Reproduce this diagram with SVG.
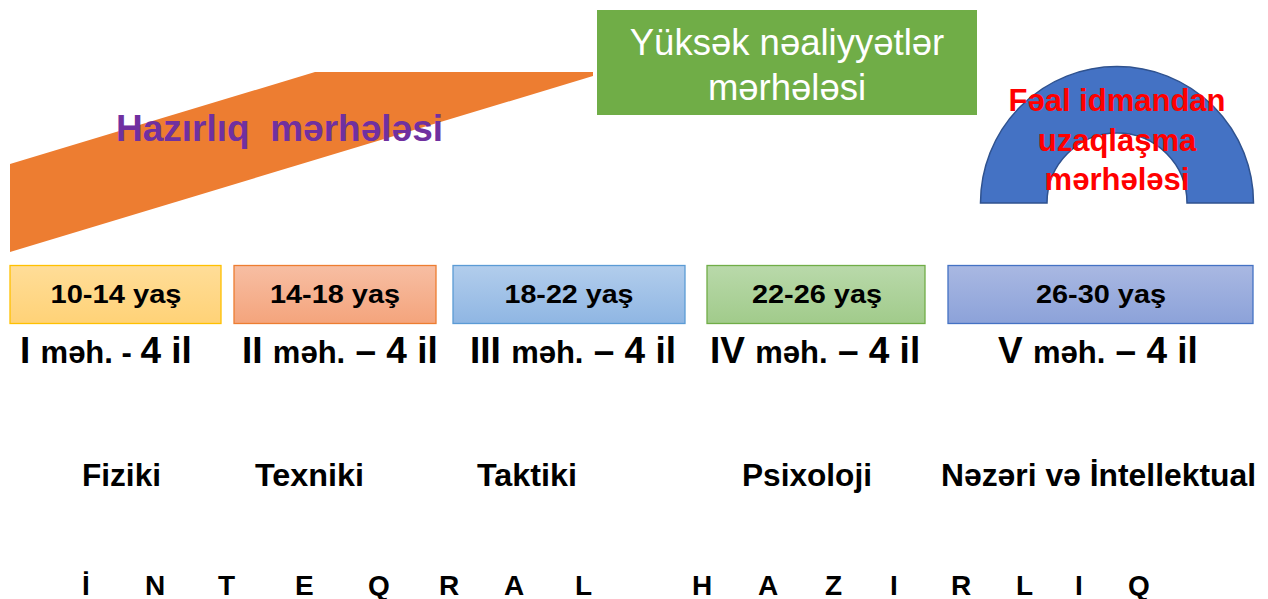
<svg xmlns="http://www.w3.org/2000/svg" width="1268" height="599" viewBox="0 0 1268 599">
  <defs>
    <linearGradient id="gYellow" x1="0" y1="0" x2="0" y2="1">
      <stop offset="0" stop-color="#FFDD98"/>
      <stop offset="1" stop-color="#FFD277"/>
    </linearGradient>
    <linearGradient id="gSalmon" x1="0" y1="0" x2="0" y2="1">
      <stop offset="0" stop-color="#F7BEA3"/>
      <stop offset="1" stop-color="#F4A47C"/>
    </linearGradient>
    <linearGradient id="gBlue" x1="0" y1="0" x2="0" y2="1">
      <stop offset="0" stop-color="#B2CDEC"/>
      <stop offset="1" stop-color="#8FB6E3"/>
    </linearGradient>
    <linearGradient id="gGreen" x1="0" y1="0" x2="0" y2="1">
      <stop offset="0" stop-color="#B9D9AA"/>
      <stop offset="1" stop-color="#A1CB8B"/>
    </linearGradient>
    <linearGradient id="gIndigo" x1="0" y1="0" x2="0" y2="1">
      <stop offset="0" stop-color="#A9B8E2"/>
      <stop offset="1" stop-color="#8CA2D9"/>
    </linearGradient>
  </defs>
  <style>
    .b { font-family: "Liberation Sans", Arial, sans-serif; font-weight: bold; fill: #000; }
    .n { font-family: "Liberation Sans Narrow", "Liberation Sans", Arial, sans-serif; font-weight: bold; fill: #000; }
    .age { font-size: 26px; text-anchor: middle; }
    .stage { font-size: 37px; }
    .small { font-size: 31px; }
    .kind { font-size: 32px; }
    .letter { font-size: 28px; }
    .box { stroke-width: 1.3; }
    .red { fill: #FF0000; }
  </style>

  <!-- preparation stage band -->
  <g id="hazirliq">
    <polygon points="10,164 315,72 593,72 593,76 10,252" fill="#ED7D31"/>
    <text x="116" y="141" class="b" font-size="37" style="fill:#7030A0" textLength="327" lengthAdjust="spacingAndGlyphs" xml:space="preserve">Hazırlıq  mərhələsi</text>
  </g>

  <!-- peak achievements stage -->
  <g id="yuksek">
    <rect x="597" y="10" width="380" height="105" fill="#70AD47"/>
    <text x="787" y="55" font-family="Liberation Sans, Arial, sans-serif" font-size="36.5" fill="#FFFFFF" text-anchor="middle">Yüksək nəaliyyətlər</text>
    <text x="787" y="100" font-family="Liberation Sans, Arial, sans-serif" font-size="36.5" fill="#FFFFFF" text-anchor="middle">mərhələsi</text>
  </g>

  <!-- retirement stage arch -->
  <g id="uzaqlasma">
    <path d="M980.5,203 A136.5,136.5 0 0 1 1253.5,203 L1187,203 A70,70 0 0 0 1047,203 Z" fill="#4472C4" stroke="#2F528F" stroke-width="1.5"/>
    <g font-size="31" text-anchor="middle">
      <text class="b red" x="1117" y="111">Fəal idmandan</text>
      <text class="b red" x="1117" y="151">uzaqlaşma</text>
      <text class="b red" x="1117" y="190">mərhələsi</text>
    </g>
  </g>

  <!-- age boxes -->
  <g id="age1">
    <rect class="box" x="10" y="265.5" width="211" height="58" fill="url(#gYellow)" stroke="#FFC000"/>
    <text class="n age" x="116" y="303" textLength="131" lengthAdjust="spacingAndGlyphs">10-14 yaş</text>
  </g>
  <g id="age2">
    <rect class="box" x="234" y="265.5" width="202" height="58" fill="url(#gSalmon)" stroke="#ED7D31"/>
    <text class="n age" x="335" y="303" textLength="130" lengthAdjust="spacingAndGlyphs">14-18 yaş</text>
  </g>
  <g id="age3">
    <rect class="box" x="453" y="265.5" width="232" height="58" fill="url(#gBlue)" stroke="#5B9BD5"/>
    <text class="n age" x="569" y="303" textLength="129" lengthAdjust="spacingAndGlyphs">18-22 yaş</text>
  </g>
  <g id="age4">
    <rect class="box" x="707" y="265.5" width="218" height="58" fill="url(#gGreen)" stroke="#70AD47"/>
    <text class="n age" x="817" y="303" textLength="130" lengthAdjust="spacingAndGlyphs">22-26 yaş</text>
  </g>
  <g id="age5">
    <rect class="box" x="948" y="265.5" width="305" height="58" fill="url(#gIndigo)" stroke="#4472C4"/>
    <text class="n age" x="1101" y="303" textLength="130" lengthAdjust="spacingAndGlyphs">26-30 yaş</text>
  </g>

  <!-- stage durations -->
  <g id="durations">
    <text x="20" y="363" class="b stage" xml:space="preserve">I <tspan class="small">məh.</tspan><tspan class="small"> - </tspan>4 il</text>
    <text x="242" y="363" class="b stage" xml:space="preserve">II <tspan class="small">məh.</tspan> – 4 il</text>
    <text x="470" y="363" class="b stage" xml:space="preserve">III <tspan class="small">məh.</tspan> – 4 il</text>
    <text x="710" y="363" class="b stage" xml:space="preserve">IV <tspan class="small">məh.</tspan> – 4 il</text>
    <text x="998" y="363" class="b stage" xml:space="preserve">V <tspan class="small">məh.</tspan> – 4 il</text>
  </g>

  <!-- training kinds -->
  <g id="kinds">
    <text class="n kind" x="82" y="486" textLength="79" lengthAdjust="spacingAndGlyphs">Fiziki</text>
    <text class="n kind" x="255" y="486" textLength="109" lengthAdjust="spacingAndGlyphs">Texniki</text>
    <text class="n kind" x="477" y="486" textLength="100" lengthAdjust="spacingAndGlyphs">Taktiki</text>
    <text class="n kind" x="742" y="486" textLength="130" lengthAdjust="spacingAndGlyphs">Psixoloji</text>
    <text class="n kind" x="941" y="486" textLength="315" lengthAdjust="spacingAndGlyphs">Nəzəri və İntellektual</text>
  </g>

  <!-- spaced heading -->
  <g id="integral">
    <text class="b letter" x="82" y="595">İ</text>
    <text class="b letter" x="145" y="595">N</text>
    <text class="b letter" x="218" y="595">T</text>
    <text class="b letter" x="295" y="595">E</text>
    <text class="b letter" x="368" y="595">Q</text>
    <text class="b letter" x="439" y="595">R</text>
    <text class="b letter" x="504" y="595">A</text>
    <text class="b letter" x="575" y="595">L</text>
    <text class="b letter" x="692" y="595">H</text>
    <text class="b letter" x="758" y="595">A</text>
    <text class="b letter" x="825" y="595">Z</text>
    <text class="b letter" x="890" y="595">I</text>
    <text class="b letter" x="951" y="595">R</text>
    <text class="b letter" x="1016" y="595">L</text>
    <text class="b letter" x="1075" y="595">I</text>
    <text class="b letter" x="1128" y="595">Q</text>
  </g>
</svg>
